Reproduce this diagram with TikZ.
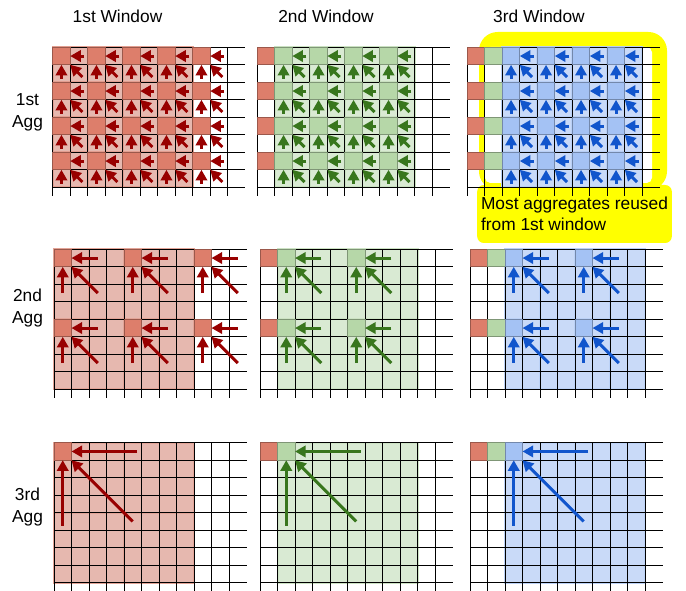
\documentclass[tikz,border=0pt]{standalone}
\usepackage{fontspec}
\setmainfont{Liberation Sans}
\usetikzlibrary{arrows.meta}
\definecolor{redcell}{HTML}{DD7E6B}
\definecolor{redfill}{HTML}{E6B8AF}
\definecolor{redarrow}{HTML}{980000}
\definecolor{greencell}{HTML}{B6D7A8}
\definecolor{greenfill}{HTML}{D9EAD3}
\definecolor{greenarrow}{HTML}{38761D}
\definecolor{bluecell}{HTML}{A4C2F4}
\definecolor{bluefill}{HTML}{C9DAF8}
\definecolor{bluearrow}{HTML}{1155CC}
\definecolor{hlcol}{HTML}{FFFF00}
\tikzset{
  gl/.style={draw=black,line width=0.75pt},
  cellbox/.style={rectangle,minimum size=13.125pt,inner sep=0pt,outer sep=0pt,fill=#1cell,draw=#1cell!70!black,line width=0.6pt},
  blk/.style={fill=#1fill,draw=#1cell!45!#1fill,line width=1.5pt},
  sub/.style={draw=#1cell!35!#1fill,line width=1pt},
  arr/.style={-{Triangle[length=8pt,width=8.5pt]},draw=#1arrow,line width=2.2pt},
  lbl/.style={font=\fontsize{13}{16.5}\selectfont,align=center},
  note/.style={fill=hlcol,rounded corners=5pt,minimum width=146pt,minimum height=43.5pt,inner sep=0pt,align=left,font=\fontsize{13}{15.5}\selectfont}
}
% grid of 11 columns, 8 rows, ticks below
\newcommand{\gridlines}{%
  \foreach \i in {0,...,10}{\draw[gl] (\i,0) -- (\i,8.5);}
  \foreach \j in {0,...,8}{\draw[gl] (0,\j) -- (11,\j);}
}
% #1 name, #2 col, #3 row, #4 colour, #5 tail, #6 diagonal tail
\newcommand{\aggcell}[6]{%
  \node[cellbox=#4] (#1) at (#2+0.5,#3+0.5) {};
  \coordinate (#1-h) at (#2+#5,#3+0.5);
  \coordinate (#1-v) at (#2+0.5,#3+#5);
  \coordinate (#1-d) at (#2+#6,#3+#6);
  \draw[arr=#4] (#1-h) -- (#1.east);
  \draw[arr=#4] (#1-v) -- (#1.south);
  \draw[arr=#4] (#1-d) -- (#1.south east);
}

\begin{document}
\begin{tikzpicture}[x=0.75pt,y=-0.75pt]
\useasboundingbox (0,0) rectangle (686,591);
% titles
\node[lbl] (win1) at (117.5,16){1st Window};
\node[lbl] (win2) at (326,16){2nd Window};
\node[lbl] (win3) at (539,16){3rd Window};
\node[lbl] (agg1) at (27.5,112){1st\\Agg};
\node[lbl] (agg2) at (27.5,308){2nd\\Agg};
\node[lbl] (agg3) at (27.5,507){3rd\\Agg};
% highlight behind 3rd window
\fill[hlcol,rounded corners=14pt] (479,32) rectangle (667,190);
\fill[white,rounded corners=4pt] (485,47) rectangle (652,183);
\node[note] (reuse) at (574.5,214){Most aggregates reused\\from 1st window};

% ---- 1st Agg ----
\begin{scope}[shift={(52.7,47.3)},x=13.125pt,y=-13.125pt]
  \foreach \cx in {0,2,4,6}{\foreach \ry in {0,2,4,6}{\filldraw[blk=red] (\cx,\ry) rectangle ++(2,2);}}
  \gridlines
  \foreach \cx in {0,2,4,6,8}{\foreach \ry in {0,2,4,6}{\aggcell{a11-\cx-\ry}{\cx}{\ry}{red}{1.8}{1.7}}}
\end{scope}
\begin{scope}[shift={(257.3,47.3)},x=13.125pt,y=-13.125pt]
  \foreach \cx in {1,3,5,7}{\foreach \ry in {0,2,4,6}{\filldraw[blk=green] (\cx,\ry) rectangle ++(2,2);}}
  \gridlines
  \foreach \ry in {0,2,4,6}{\node[cellbox=red] (r12-\ry) at (0.5,\ry+0.5){};}
  \foreach \cx in {1,3,5,7}{\foreach \ry in {0,2,4,6}{\aggcell{a12-\cx-\ry}{\cx}{\ry}{green}{1.8}{1.7}}}
\end{scope}
\begin{scope}[shift={(467.3,47.3)},x=13.125pt,y=-13.125pt]
  \foreach \cx in {2,4,6,8}{\foreach \ry in {0,2,4,6}{\filldraw[blk=blue] (\cx,\ry) rectangle ++(2,2);}}
  \gridlines
  \foreach \ry in {0,2,4,6}{\node[cellbox=red] (r13-\ry) at (0.5,\ry+0.5){};
    \node[cellbox=green] (g13-\ry) at (1.5,\ry+0.5){};}
  \foreach \cx in {2,4,6,8}{\foreach \ry in {0,2,4,6}{\aggcell{a13-\cx-\ry}{\cx}{\ry}{blue}{1.8}{1.7}}}
\end{scope}

% ---- 2nd Agg ----
\begin{scope}[shift={(54,249.3)},x=13.125pt,y=-13.125pt]
  \filldraw[blk=red] (0,0) rectangle (8,8);
  \foreach \cx in {0,2,4,6}{\foreach \ry in {0,2,4,6}{\draw[sub=red] (\cx,\ry) rectangle ++(2,2);}}
  \foreach \cx in {0,4}{\foreach \ry in {0,4}{\draw[sub=red,line width=1.5pt] (\cx,\ry) rectangle ++(4,4);}}
  \gridlines
  \foreach \cx in {0,4,8}{\foreach \ry in {0,4}{\aggcell{a21-\cx-\ry}{\cx}{\ry}{red}{2.5}{2.5}}}
\end{scope}
\begin{scope}[shift={(260,249.3)},x=13.125pt,y=-13.125pt]
  \filldraw[blk=green] (1,0) rectangle (9,8);
  \foreach \cx in {1,3,5,7}{\foreach \ry in {0,2,4,6}{\draw[sub=green] (\cx,\ry) rectangle ++(2,2);}}
  \foreach \cx in {1,5}{\foreach \ry in {0,4}{\draw[sub=green,line width=1.5pt] (\cx,\ry) rectangle ++(4,4);}}
  \gridlines
  \foreach \ry in {0,4}{\node[cellbox=red] (r22-\ry) at (0.5,\ry+0.5){};}
  \foreach \cx in {1,5}{\foreach \ry in {0,4}{\aggcell{a22-\cx-\ry}{\cx}{\ry}{green}{2.5}{2.5}}}
\end{scope}
\begin{scope}[shift={(470,249.3)},x=13.125pt,y=-13.125pt]
  \filldraw[blk=blue] (2,0) rectangle (10,8);
  \foreach \cx in {2,4,6,8}{\foreach \ry in {0,2,4,6}{\draw[sub=blue] (\cx,\ry) rectangle ++(2,2);}}
  \foreach \cx in {2,6}{\foreach \ry in {0,4}{\draw[sub=blue,line width=1.5pt] (\cx,\ry) rectangle ++(4,4);}}
  \gridlines
  \foreach \ry in {0,4}{\node[cellbox=red] (r23-\ry) at (0.5,\ry+0.5){};
    \node[cellbox=green] (g23-\ry) at (1.5,\ry+0.5){};}
  \foreach \cx in {2,6}{\foreach \ry in {0,4}{\aggcell{a23-\cx-\ry}{\cx}{\ry}{blue}{2.5}{2.5}}}
\end{scope}

% ---- 3rd Agg ----
\begin{scope}[shift={(54,442.7)},x=13.125pt,y=-13.125pt]
  \filldraw[blk=red] (0,0) rectangle (8,8);
  \foreach \cx in {0,4}{\foreach \ry in {0,4}{\draw[sub=red,line width=1.5pt] (\cx,\ry) rectangle ++(4,4);}}
  \gridlines
  \aggcell{a31}{0}{0}{red}{4.75}{4.5}
\end{scope}
\begin{scope}[shift={(260,442.7)},x=13.125pt,y=-13.125pt]
  \filldraw[blk=green] (1,0) rectangle (9,8);
  \foreach \cx in {1,5}{\foreach \ry in {0,4}{\draw[sub=green,line width=1.5pt] (\cx,\ry) rectangle ++(4,4);}}
  \gridlines
  \node[cellbox=red] (r32) at (0.5,0.5){};
  \aggcell{a32}{1}{0}{green}{4.75}{4.5}
\end{scope}
\begin{scope}[shift={(470,442.7)},x=13.125pt,y=-13.125pt]
  \filldraw[blk=blue] (2,0) rectangle (10,8);
  \foreach \cx in {2,6}{\foreach \ry in {0,4}{\draw[sub=blue,line width=1.5pt] (\cx,\ry) rectangle ++(4,4);}}
  \gridlines
  \node[cellbox=red] (r33) at (0.5,0.5){};
  \node[cellbox=green] (g33) at (1.5,0.5){};
  \aggcell{a33}{2}{0}{blue}{4.75}{4.5}
\end{scope}
\end{tikzpicture}
\end{document}
